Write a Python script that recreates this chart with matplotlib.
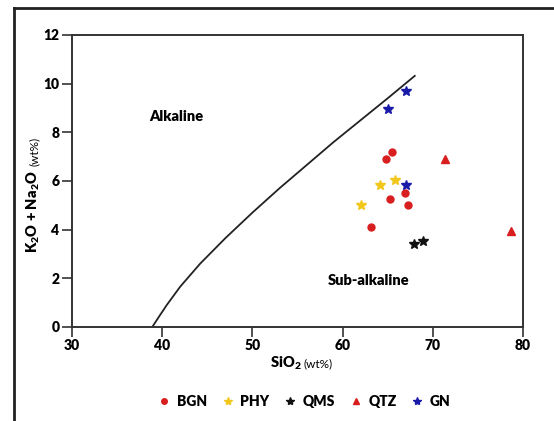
import matplotlib
matplotlib.use("Agg")
import matplotlib.pyplot as plt
from matplotlib.lines import Line2D

plt.rcParams['font.family'] = ['Lato', 'DejaVu Sans']
plt.rcParams['mathtext.default'] = 'regular'

# Alkaline / Sub-alkaline boundary (Irvine & Baragar style)
curve_x = [38.9, 39.6, 40.5, 42.0, 44.2, 47.0, 50.0, 53.0, 56.0, 59.0, 62.0, 65.0, 68.0]
curve_y = [0.0, 0.4, 0.9, 1.66, 2.6, 3.65, 4.7, 5.7, 6.65, 7.6, 8.5, 9.4, 10.32]

bgn_x = [65.5, 64.85, 65.2, 66.95, 67.3, 63.1]
bgn_y = [7.2, 6.89, 5.25, 5.52, 5.01, 4.10]
phy_x = [64.15, 65.8, 62.0]
phy_y = [5.82, 6.03, 5.01]
qms_x = [67.9, 68.9]
qms_y = [3.41, 3.55]
qtz_x = [71.4, 78.7]
qtz_y = [6.89, 3.93]
gn_x = [67.0, 65.0, 67.0]
gn_y = [9.69, 8.96, 5.82]

xticks = [30, 40, 50, 60, 70, 80]
yticks = [0, 2, 4, 6, 8, 10, 12]

W, H = 554, 421
HW = 'heavy'
fig = plt.figure(figsize=(W / 100, H / 100), dpi=100)
ax = fig.add_axes([72 / W, 1 - 327 / H, (523 - 72) / W, (327 - 35) / H])

ax.plot(curve_x, curve_y, color='#222222', lw=1.3)

ax.plot(bgn_x, bgn_y, 'o', color='#d81e1e', ms=5, ls='none', label='BGN')
ax.plot(phy_x, phy_y, '*', color='#f2c71c', ms=7.5, ls='none', label='PHY')
ax.plot(qms_x, qms_y, '*', color='#111111', ms=7.5, ls='none', label='QMS')
ax.plot(qtz_x, qtz_y, '^', color='#d81e1e', ms=6, ls='none', label='QTZ')
ax.plot(gn_x, gn_y, '*', color='#1a1aa8', ms=7.5, ls='none', label='GN')

ax.set_xlim(30, 80)
ax.set_ylim(0, 12)
ax.set_xticks(xticks)
ax.set_yticks(yticks)
for lab in ax.get_xticklabels() + ax.get_yticklabels():
    lab.set_fontweight(HW)
    lab.set_fontsize(10)
ax.tick_params(direction='out', length=7, width=1.2, color='#333333', pad=2)
for s in ax.spines.values():
    s.set_color('#333333')
    s.set_linewidth(1.4)

ax.text(41.6, 8.67, 'Alkaline', fontsize=10.5, fontweight=HW, ha='center', va='center')
ax.text(62.9, 1.93, 'Sub-alkaline', fontsize=10.5, fontweight=HW, ha='center', va='center')

# axis labels
fig.canvas.draw()
r = fig.canvas.get_renderer()
t1 = fig.text(302 / W, 1 - 363 / H, 'SiO$_2$', fontsize=10.5, fontweight=HW, ha='right', va='center')
t2 = fig.text(304 / W, 1 - 364 / H, '(wt%)', fontsize=8.5, ha='left', va='center')

ty1 = fig.text(33 / W, 1 - 253 / H, 'K$_2$O + Na$_2$O', fontsize=10.5, fontweight=HW,
               rotation=90, ha='center', va='bottom')
fig.canvas.draw()
bb = ty1.get_window_extent(r)
ty2 = fig.text(34 / W, (bb.y1 + 4) / H, '(wt%)', fontsize=8.5, rotation=90, ha='center', va='bottom')

leg = fig.legend(loc='center', bbox_to_anchor=(304 / W, 1 - 401 / H), ncol=5, frameon=False,
                 prop={'weight': HW, 'size': 10}, handletextpad=0.4, columnspacing=1.0,
                 handlelength=1.0, markerscale=0.8)

# outer frame
fig.add_artist(Line2D([14 / W, 14 / W], [0, 1 - 8 / H], transform=fig.transFigure, color='#222222', lw=2))
fig.add_artist(Line2D([14 / W, 1], [1 - 8 / H, 1 - 8 / H], transform=fig.transFigure, color='#222222', lw=2))

fig.savefig('out.png', dpi=100)
